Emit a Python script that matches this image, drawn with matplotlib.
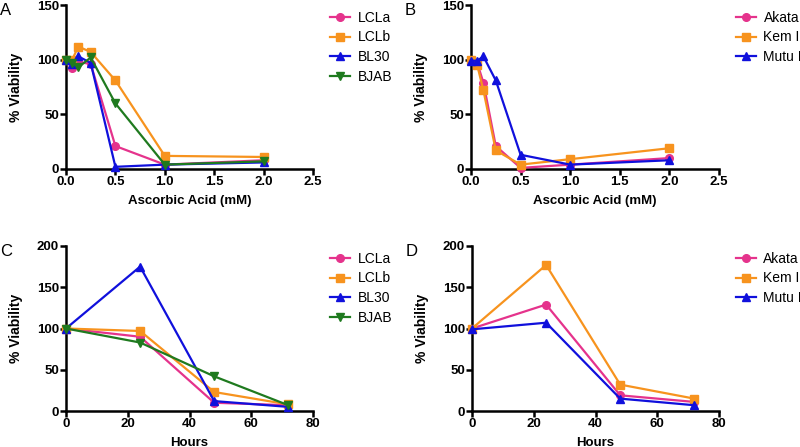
import matplotlib
matplotlib.use("Agg")
import matplotlib.pyplot as plt

# ---- data ----
conc = [0, 0.0625, 0.125, 0.25, 0.5, 1.0, 2.0]
a_names = ["LCLa", "LCLb", "BL30", "BJAB"]
a_LCLa = [100, 92, 98, 96, 21, 4, 8]
a_LCLb = [100, 100, 112, 107, 81, 12, 11]
a_BL30 = [100, 96, 103, 97, 2, 4, 6]
a_BJAB = [100, 97, 93, 102, 60, 4, 7]

b_names = ["Akata", "Kem I", "Mutu I"]
b_Akata = [100, 97, 79, 21, 1, 4, 10]
b_Kem = [100, 95, 72, 17, 4, 9, 19]
b_Mutu = [99, 99, 103, 81, 13, 4, 8]

hours = [0, 24, 48, 72]
c_LCLa = [100, 90, 10, 7]
c_LCLb = [100, 97, 23, 8]
c_BL30 = [100, 175, 12, 5]
c_BJAB = [100, 83, 42, 7]

d_Akata = [100, 129, 19, 11]
d_Kem = [100, 177, 32, 15]
d_Mutu = [99, 107, 15, 7]

PINK = "#E5338C"
ORANGE = "#F7931E"
BLUE = "#1010DC"
GREEN = "#1F7A1F"

styles4 = [(PINK, "o"), (ORANGE, "s"), (BLUE, "^"), (GREEN, "v")]
styles3 = [(PINK, "o"), (ORANGE, "s"), (BLUE, "^")]

fig = plt.figure(figsize=(8, 4.47), dpi=100)
W, H = 800, 447

def make_ax(l, r, t, b):
    return fig.add_axes([l / W, 1 - b / H, (r - l) / W, (b - t) / H])

axA = make_ax(66, 313, 5, 169)
axB = make_ax(471, 719, 5, 169)
axC = make_ax(66, 313, 246, 411)
axD = make_ax(472, 719, 246, 411)

tickfont = dict(family="Liberation Sans", weight="bold", size=9.5)

def style(ax, xlim, xticks, xfmt, ylim, yticks, xlabel, letter, names, series, styles, x):
    for nm, ys, (c, m) in zip(names, series, styles):
        ax.plot(x, ys, color=c, marker=m, markersize=5.5, linewidth=1.6,
                label=nm, clip_on=False, zorder=3)
    ax.set_xlim(*xlim)
    ax.set_ylim(*ylim)
    ax.set_xticks(xticks)
    ax.set_xticklabels([xfmt.format(v) for v in xticks], **tickfont)
    ax.set_yticks(yticks)
    ax.set_yticklabels([str(v) for v in yticks], **tickfont)
    for s in ["top", "right"]:
        ax.spines[s].set_visible(False)
    for s in ["left", "bottom"]:
        ax.spines[s].set_linewidth(1.8)
    ax.tick_params(direction="out", length=4, width=1.8, pad=1)
    ax.set_xlabel(xlabel, family="Liberation Sans", weight="bold", size=9.5, labelpad=5)
    ax.set_ylabel("% Viability", family="Liberation Sans", weight="bold", size=10, labelpad=10)
    ax.text(-0.268, 1.01, letter, transform=ax.transAxes, family="Liberation Sans",
            size=12, va="top", ha="left")
    ax.legend(loc="upper left", bbox_to_anchor=(1.045, 1.0), frameon=False,
              prop=dict(family="Liberation Sans", size=10), handlelength=1.45,
              handletextpad=0.55, labelspacing=0.42, borderaxespad=0)

style(axA, (0, 2.5), [0, 0.5, 1.0, 1.5, 2.0, 2.5], "{:.1f}", (0, 150), [0, 50, 100, 150],
      "Ascorbic Acid (mM)", "A", a_names, [a_LCLa, a_LCLb, a_BL30, a_BJAB], styles4, conc)
style(axB, (0, 2.5), [0, 0.5, 1.0, 1.5, 2.0, 2.5], "{:.1f}", (0, 150), [0, 50, 100, 150],
      "Ascorbic Acid (mM)", "B", b_names, [b_Akata, b_Kem, b_Mutu], styles3, conc)
style(axC, (0, 80), [0, 20, 40, 60, 80], "{:d}", (0, 200), [0, 50, 100, 150, 200],
      "Hours", "C", a_names, [c_LCLa, c_LCLb, c_BL30, c_BJAB], styles4, hours)
style(axD, (0, 80), [0, 20, 40, 60, 80], "{:d}", (0, 200), [0, 50, 100, 150, 200],
      "Hours", "D", b_names, [d_Akata, d_Kem, d_Mutu], styles3, hours)

fig.savefig("out.png", dpi=100)
